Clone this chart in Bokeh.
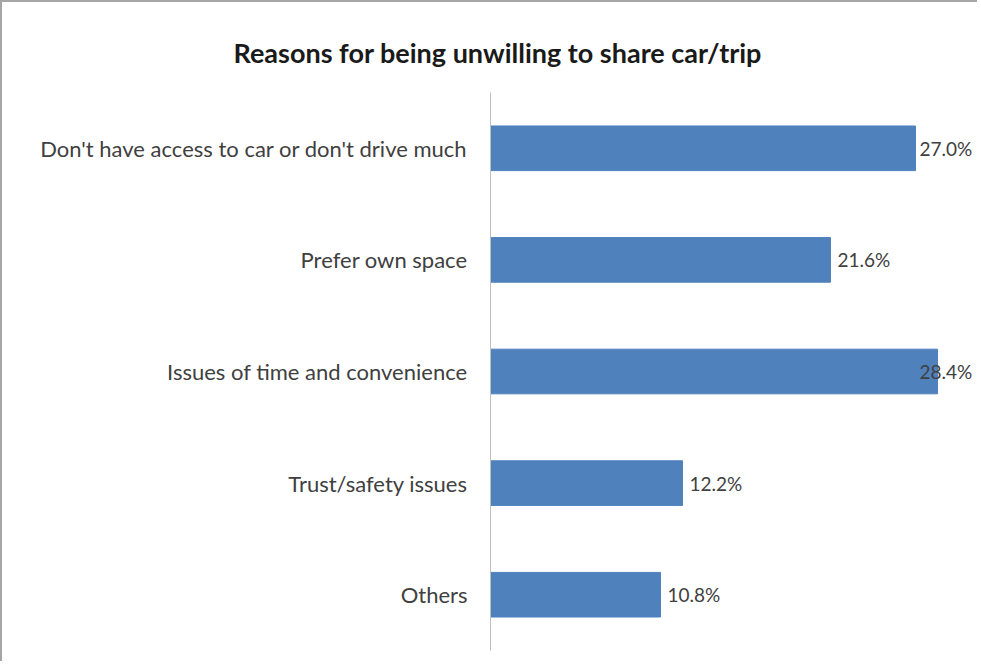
from bokeh.plotting import figure
from bokeh.models import ColumnDataSource, FactorRange, Range1d, Title
from bokeh.embed import file_html
from bokeh.resources import INLINE
from bokeh.core.properties import value

# ---- data ----
categories = [
    "Don't have access to car or don't drive much",
    "Prefer own space",
    "Issues of time and convenience",
    "Trust/safety issues",
    "Others",
]
percent = [27.0, 21.6, 28.4, 12.2, 10.8]
title_text = "Reasons for being unwilling to share car/trip"

# ---- layout ----
W, H = 977, 661
LEFT, RIGHT, TOP, BOTTOM = 488, 0, 90, 13
PX_PER_UNIT = 15.74
X_END = (W - LEFT - RIGHT) / PX_PER_UNIT
FONT = "Lato"
FS = "22px"

label_w = 60
offsets = []
for v in percent:
    room = (X_END - v) * PX_PER_UNIT
    offsets.append(min(7, room - label_w))

src = ColumnDataSource(dict(
    cat=categories,
    val=percent,
    lab=[f"{v:.1f}%" for v in percent],
    off=offsets,
))

p = figure(
    width=W, height=H,
    y_range=FactorRange(*reversed(categories), range_padding=0, factor_padding=0),
    x_range=Range1d(0, X_END),
    output_backend="svg", toolbar_location=None,
    min_border_left=LEFT, min_border_right=RIGHT,
    min_border_top=TOP, min_border_bottom=BOTTOM,
)
p.styles = {"border-left": "2px solid #a6a6a6", "border-top": "2px solid #a6a6a6"}

p.hbar(y="cat", right="val", left=0, height=0.4, source=src,
       fill_color="#4F81BD", line_color="#4F81BD")

p.text(x="val", y="cat", text="lab", x_offset="off", source=src,
       text_align="left", text_baseline="middle",
       text_font=value(FONT), text_font_size="19px", text_color="#404040")

p.xaxis.visible = False
p.xgrid.visible = False
p.ygrid.visible = False
p.outline_line_color = None

ax = p.yaxis[0]
ax.axis_line_color = "#bfbfbf"
ax.axis_line_width = 1
ax.major_tick_line_color = None
ax.minor_tick_line_color = None
ax.major_label_standoff = 17
ax.major_label_text_font = FONT
ax.major_label_text_font_size = FS
ax.major_label_text_color = "#404040"

t = Title(text=title_text, align="left", offset=-257, standoff=48,
          text_font=FONT, text_font_style="bold", text_font_size="27px",
          text_color="#1a1a1a")
p.add_layout(t, "above")

open("out.html", "w").write(file_html(p, INLINE))
